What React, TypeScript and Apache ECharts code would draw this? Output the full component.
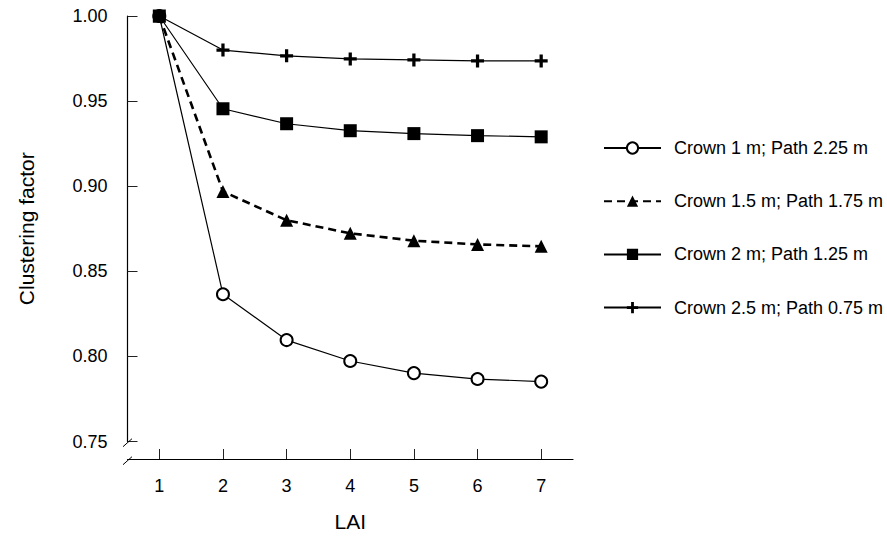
import { useEffect, useRef } from "react";
import * as echarts from "echarts";

// LAI categories along the x axis
const laiValues = ["1", "2", "3", "4", "5", "6", "7"];

// Legend names, one per series
const seriesNames = [
  "Crown 1 m; Path 2.25 m",
  "Crown 1.5 m; Path 1.75 m",
  "Crown 2 m; Path 1.25 m",
  "Crown 2.5 m; Path 0.75 m",
];

// Clustering factor per LAI
const crown1 = [1.0, 0.8365, 0.8096, 0.7973, 0.7902, 0.7867, 0.7852];
const crown15 = [1.0, 0.8969, 0.88, 0.8723, 0.868, 0.8658, 0.8647];
const crown2 = [1.0, 0.9455, 0.9367, 0.9326, 0.9309, 0.9297, 0.929];
const crown25 = [1.0, 0.98, 0.9766, 0.9748, 0.9742, 0.9736, 0.9736];

// y axis range and tick step
const yMin = 0.75;
const yMax = 1.0;
const yStep = 0.05;

const W = 887;
const H = 537;
const GRID = { left: 127.5, right: 314, top: 16, bottom: 94.3 };
const X_OFFSET = 17.5;
const FONT = "'Liberation Sans', Arial, Helvetica, sans-serif";

const plusSymbol =
  "path://M9,0 h6 v9 h9 v6 h-9 v9 h-6 v-9 h-9 v-6 h9 z";

export default function App() {
  const ref = useRef<HTMLDivElement>(null);

  useEffect(() => {
    if (!ref.current) return;
    const chart = echarts.init(ref.current, undefined, { renderer: "svg" });

    const axisX = GRID.left;
    const yAxisBottom = H - GRID.bottom;
    const xAxisY = yAxisBottom + X_OFFSET;
    // small "//" axis-break marks
    const slash = (cx: number, cy: number) => ({
      type: "line",
      shape: { x1: cx - 4.5, y1: cy + 4, x2: cx + 4.5, y2: cy - 4 },
      style: { stroke: "#000", lineWidth: 1 },
      z: 10,
    });

    const solid = { color: "#000", width: 1.2, type: "solid" as const };

    chart.setOption({
      animation: false,
      backgroundColor: "#fff",
      textStyle: { fontFamily: FONT, color: "#000" },
      grid: { ...GRID, containLabel: false },
      legend: {
        orient: "vertical",
        left: 598,
        top: 134,
        itemWidth: 57,
        itemHeight: 14,
        itemGap: 35.2,
        textStyle: {
          fontFamily: FONT,
          fontSize: 18,
          color: "#000",
          lineHeight: 14,
          padding: [0, 0, 0, 8],
        },
        data: seriesNames,
      },
      xAxis: {
        type: "category",
        data: laiValues,
        boundaryGap: true,
        offset: X_OFFSET,
        name: "LAI",
        nameLocation: "middle",
        nameGap: 52,
        nameTextStyle: { fontFamily: FONT, fontSize: 21, color: "#000" },
        axisLine: { show: true, lineStyle: { color: "#000", width: 1.2 } },
        axisTick: {
          show: true,
          inside: true,
          length: 10,
          alignWithLabel: true,
          lineStyle: { color: "#222", width: 1 },
        },
        axisLabel: {
          margin: 18,
          fontFamily: FONT,
          fontSize: 18,
          color: "#000",
        },
        splitLine: { show: false },
      },
      yAxis: {
        type: "value",
        min: yMin,
        max: yMax,
        interval: yStep,
        name: "Clustering factor",
        nameLocation: "middle",
        nameGap: 91,
        nameTextStyle: { fontFamily: FONT, fontSize: 21, color: "#000" },
        axisLine: { show: true, lineStyle: { color: "#000", width: 1.2 } },
        axisTick: {
          show: true,
          inside: true,
          length: 10,
          lineStyle: { color: "#222", width: 1 },
        },
        axisLabel: {
          margin: 20,
          fontFamily: FONT,
          fontSize: 18,
          color: "#000",
          padding: [7, 0, 0, 0],
          formatter: (v: number) => v.toFixed(2),
        },
        splitLine: { show: false },
      },
      graphic: [slash(axisX, yAxisBottom), slash(axisX, xAxisY + 0.5)],
      series: [
        {
          name: seriesNames[0],
          type: "line",
          data: crown1,
          symbol: "emptyCircle",
          symbolSize: 12,
          lineStyle: solid,
          itemStyle: { color: "#000", borderWidth: 1.2 },
          z: 2,
        },
        {
          name: seriesNames[1],
          type: "line",
          data: crown15,
          symbol: "triangle",
          symbolSize: 13,
          lineStyle: { color: "#000", width: 2.6, type: [8, 5] },
          itemStyle: { color: "#000" },
          z: 3,
        },
        {
          name: seriesNames[2],
          type: "line",
          data: crown2,
          symbol: "rect",
          symbolSize: 13,
          lineStyle: solid,
          itemStyle: { color: "#000" },
          z: 5,
        },
        {
          name: seriesNames[3],
          type: "line",
          data: crown25,
          symbol: plusSymbol,
          symbolSize: 13,
          lineStyle: solid,
          itemStyle: { color: "#000" },
          z: 4,
        },
      ],
    });

    return () => chart.dispose();
  }, []);

  return (
    <div
      ref={ref}
      style={{ position: "fixed", left: 0, top: 0, width: W, height: H, background: "#fff" }}
    />
  );
}
